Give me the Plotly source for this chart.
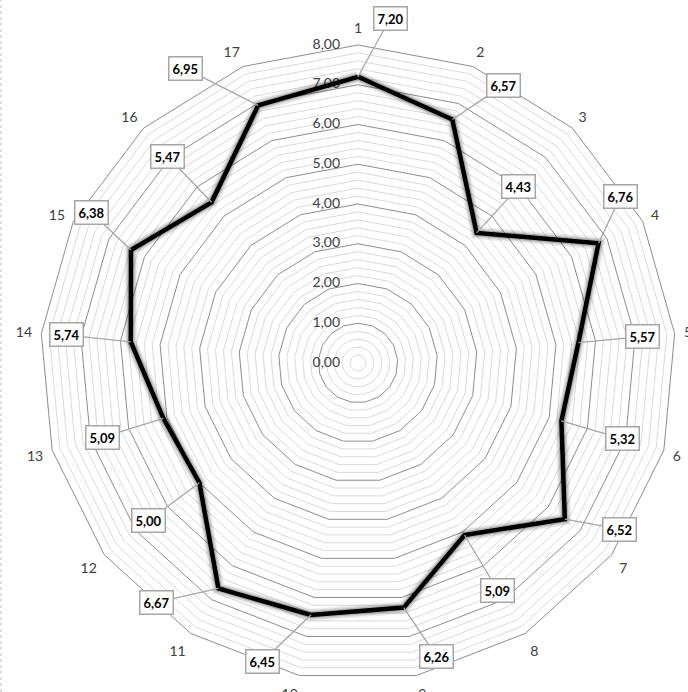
import numpy as np
import plotly.graph_objects as go

# ---- data ----
categories = ["1", "2", "3", "4", "5", "6", "7", "8", "9", "10",
              "11", "12", "13", "14", "15", "16", "17"]
values = [7.20, 6.57, 4.43, 6.76, 5.57, 5.32, 6.52, 5.09, 6.26,
          6.45, 6.67, 5.00, 5.09, 5.74, 6.38, 5.47, 6.95]
radial_ticks = [0, 1, 2, 3, 4, 5, 6, 7, 8]
r_max = 8
minor_step = 0.2

# ---- styling: label box offsets (pixels, box centre relative to point) ----
label_offsets = [(32, -58), (51, -34), (42, -46), (22, -47), (64, -6),
                 (61, 18), (55, 10), (33, 55), (33, 49), (-48, 46),
                 (-62, 14), (-51, 38), (-61, 19), (-64, -7), (-39, -37),
                 (-44, -46), (-73, -37)]

W, H = 688, 692
ML, MR, MT, MB = 40, 12, 45, 11
FONT = "Lato, Carlito, Calibri, sans-serif"


def fmt(v):
    return f"{v:.2f}".replace(".", ",")


fig = go.Figure()

closed_theta = categories + [categories[0]]

# minor rings
minor_levels = [m for m in np.arange(minor_step, r_max, minor_step)
                if abs(m - round(m)) > 1e-6]
mr, mt = [], []
for m in minor_levels:
    mr += [m] * len(closed_theta) + [None]
    mt += closed_theta + [None]
fig.add_trace(go.Scatterpolar(r=mr, theta=mt, mode="lines",
                              line=dict(color="#d9d9d9", width=1),
                              hoverinfo="skip", showlegend=False,
                              connectgaps=False))

# radial tick labels (horizontal, left of the vertical axis)
# (r = 0 is nudged by a negligible amount so that Plotly still draws it)
fig.add_trace(go.Scatterpolar(
    r=[max(t, 1e-4) for t in radial_ticks],
    theta=[categories[0]] * len(radial_ticks),
    mode="text",
    text=[fmt(t) + "\u00a0" * 5 for t in radial_ticks],
    textposition="middle left", cliponaxis=False,
    textfont=dict(size=14, color="#404040", family=FONT),
    hoverinfo="skip", showlegend=False))

closed_r = values + [values[0]]
# soft shadow
for w, a in [(13, 0.06), (10, 0.10), (7, 0.18)]:
    fig.add_trace(go.Scatterpolar(r=closed_r, theta=closed_theta, mode="lines",
                                  line=dict(color=f"rgba(0,0,0,{a})", width=w),
                                  hoverinfo="skip", showlegend=False))
fig.add_trace(go.Scatterpolar(r=closed_r, theta=closed_theta, mode="lines",
                              line=dict(color="black", width=4.5),
                              showlegend=False))

fig.update_layout(
    width=W, height=H,
    margin=dict(l=ML, r=MR, t=MT, b=MB),
    paper_bgcolor="white", plot_bgcolor="white",
    font=dict(family=FONT, color="#404040", size=13),
    showlegend=False,
    polar=dict(
        domain=dict(x=[0, 1], y=[0, 1]),
        bgcolor="white",
        gridshape="linear",
        radialaxis=dict(
            range=[0, r_max], tickvals=radial_ticks,
            angle=90, showline=False, showticklabels=False, ticks="",
            gridcolor="#8c8c8c", gridwidth=1,
            layer="below traces",
        ),
        angularaxis=dict(
            type="category", categoryarray=categories,
            direction="clockwise", rotation=90,
            showgrid=False, showline=True, linecolor="#8c8c8c", linewidth=1,
            ticks="outside", ticklen=6, tickcolor="rgba(0,0,0,0)",
            tickfont=dict(size=14, color="#404040", family=FONT),
            layer="below traces",
        ),
    ),
)

# data label callouts
n = len(categories)
for i, (v, (ox, oy)) in enumerate(zip(values, label_offsets)):
    th = np.deg2rad(i * 360 / n)
    xp = 0.5 + 0.5 * (v / r_max) * np.sin(th)
    yp = 0.5 + 0.5 * (v / r_max) * np.cos(th)
    fig.add_annotation(
        x=xp, y=yp, xref="paper", yref="paper",
        text="<b>" + fmt(v) + "</b>",
        showarrow=True, arrowhead=0, arrowwidth=1.3, arrowcolor="#a6a6a6",
        ax=ox, ay=oy, standoff=0,
        bgcolor="white", bordercolor="#a6a6a6", borderwidth=1.5, borderpad=3,
        font=dict(size=13, color="black", family=FONT),
    )

# dotted chart border on the left edge
pw = W - ML - MR
ph = H - MT - MB
fig.add_shape(type="line", xref="paper", yref="paper",
              x0=(1 - ML) / pw, x1=(1 - ML) / pw,
              y0=-MB / ph, y1=1 + MT / ph,
              line=dict(color="#bfbfbf", width=1, dash="dot"))

fig.write_html("out.html")
